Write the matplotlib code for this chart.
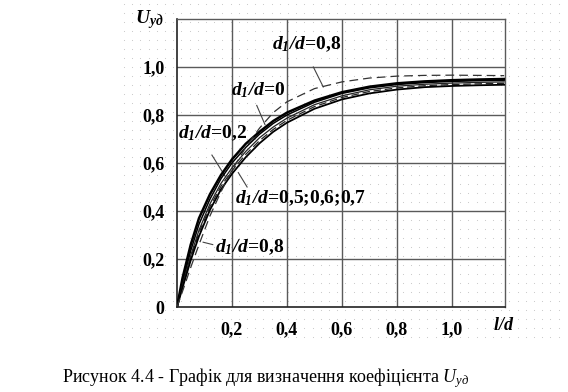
import matplotlib
matplotlib.use("Agg")
import matplotlib.pyplot as plt
import numpy as np

plt.rcParams['font.family'] = ['Liberation Serif', 'DejaVu Serif']
plt.rcParams['mathtext.fontset'] = 'custom'
plt.rcParams['mathtext.rm'] = 'Liberation Serif'
plt.rcParams['mathtext.it'] = 'Liberation Serif:italic'
plt.rcParams['mathtext.bf'] = 'Liberation Serif:italic:bold'

# ---- data ----
x_l = [0, 0.02, 0.05, 0.08, 0.12, 0.16, 0.2, 0.25, 0.3, 0.35, 0.4, 0.5, 0.6, 0.7, 0.8, 0.9, 1.0, 1.1, 1.19]

u_02 = [0, 0.12, 0.26, 0.37, 0.47, 0.55, 0.615, 0.68, 0.73, 0.775, 0.81, 0.86, 0.895, 0.918, 0.932, 0.94, 0.945, 0.948, 0.95]
u_0 = [0, 0.10, 0.235, 0.345, 0.45, 0.535, 0.60, 0.665, 0.72, 0.765, 0.80, 0.853, 0.89, 0.913, 0.927, 0.935, 0.94, 0.943, 0.945]
u_05 = [0, 0.09, 0.215, 0.32, 0.43, 0.515, 0.58, 0.648, 0.705, 0.75, 0.787, 0.843, 0.88, 0.905, 0.92, 0.928, 0.933, 0.936, 0.938]
u_06 = [0, 0.085, 0.205, 0.31, 0.418, 0.503, 0.568, 0.636, 0.693, 0.74, 0.778, 0.835, 0.873, 0.898, 0.913, 0.922, 0.927, 0.93, 0.932]
u_07 = [0, 0.08, 0.195, 0.295, 0.405, 0.49, 0.555, 0.624, 0.682, 0.73, 0.768, 0.826, 0.865, 0.89, 0.906, 0.916, 0.921, 0.924, 0.926]
u_08 = [0, 0.065, 0.165, 0.26, 0.38, 0.48, 0.57, 0.665, 0.745, 0.81, 0.855, 0.91, 0.938, 0.954, 0.962, 0.965, 0.966, 0.965, 0.964]

x_ticks = [0.2, 0.4, 0.6, 0.8, 1.0]
x_ticklabels = ['0,2', '0,4', '0,6', '0,8', '1,0']
y_ticks = [0, 0.2, 0.4, 0.6, 0.8, 1.0]
y_ticklabels = ['0', '0,2', '0,4', '0,6', '0,8', '1,0']

# ---- figure ----
W, H = 568, 392
fig = plt.figure(figsize=(W/100, H/100), dpi=100)

# faint dotted background texture (as in the scanned original)
bg = fig.add_axes([0, 0, 1, 1], zorder=-5)
bg.set_xlim(0, W); bg.set_ylim(H, 0); bg.axis('off')
gx, gy = np.meshgrid(np.arange(124, 562, 8.2), np.arange(4, 342, 9.0))
bg.scatter(gx.ravel(), gy.ravel(), s=0.6, color='#c4c4c4', linewidths=0)

ax = fig.add_axes([177/W, 1-307/H, (505-177)/W, (307-19)/H])
ax.patch.set_alpha(0)
ax.set_xlim(0, 1.193)
ax.set_ylim(0, 1.2)

for v in [0.2, 0.4, 0.6, 0.8, 1.0]:
    ax.axvline(v, color='#5a5a5a', lw=1.0, zorder=1)
    ax.axhline(v, color='#5a5a5a', lw=1.0, zorder=1)

for s in ['top', 'right']:
    ax.spines[s].set_color('#5a5a5a')
    ax.spines[s].set_linewidth(1.0)
for s in ['left', 'bottom']:
    ax.spines[s].set_color('#222222')
    ax.spines[s].set_linewidth(1.2)

ax.plot(x_l, u_02, color='black', lw=1.8, zorder=3)
ax.plot(x_l, u_0, color='black', lw=1.1, zorder=3)
ax.plot(x_l, u_05, color='#222222', lw=0.9, zorder=3)
ax.plot(x_l, u_06, color='#222222', lw=0.9, ls=(0, (6, 3)), zorder=3)
ax.plot(x_l, u_07, color='black', lw=1.3, zorder=3)
ax.plot(x_l, u_08, color='#333333', lw=0.9, ls=(0, (7, 4)), zorder=3)

ax.set_xticks(x_ticks)
ax.set_xticklabels(x_ticklabels)
ax.set_yticks(y_ticks)
ax.set_yticklabels(y_ticklabels)
ax.tick_params(length=0, labelsize=13, pad=9)
ax.tick_params(axis='x', pad=10)
for lab in ax.get_xticklabels() + ax.get_yticklabels():
    lab.set_fontweight('bold')

lab_kw = dict(fontsize=14, fontweight='bold', zorder=5)

# labels with leader lines (data coordinates)
ax.text(0.473, 1.095, r'$\mathbf{d_1/d}$=0,8', ha='center', va='center', **lab_kw)
ax.plot([0.496, 0.532], [1.0, 0.917], color='#444444', lw=0.8)

ax.text(0.295, 0.905, r'$\mathbf{d_1/d}$=0', ha='center', va='center', **lab_kw)
ax.plot([0.29, 0.32], [0.84, 0.76], color='#444444', lw=0.8)

ax.text(0.13, 0.725, r'$\mathbf{d_1/d}$=0,2', ha='center', va='center', **lab_kw)
ax.plot([0.127, 0.175], [0.633, 0.545], color='#444444', lw=0.8)

ax.text(0.45, 0.455, r'$\mathbf{d_1/d}$=0,5;0,6;0,7', ha='center', va='center', **lab_kw)
ax.plot([0.255, 0.223], [0.50, 0.56], color='#444444', lw=0.8)

ax.text(0.265, 0.25, r'$\mathbf{d_1/d}$=0,8', ha='center', va='center', **lab_kw)
ax.plot([0.13, 0.095], [0.26, 0.27], color='#444444', lw=0.8)

# axis names
fig.text(149/W, 1-20/H, r'$\mathbf{U_{уд}}$', ha='center', va='center', fontsize=14, fontweight='bold')
fig.text(504/W, 1-325/H, r'$\mathbf{l/d}$', ha='center', va='center', fontsize=13, fontweight='bold')

# caption
fig.text(62/W, 1-378/H, 'Рисунок 4.4 - Графік для визначення коефіцієнта $U_{уд}$',
         ha='left', va='center', fontsize=13)

fig.savefig('out.png', dpi=100)
